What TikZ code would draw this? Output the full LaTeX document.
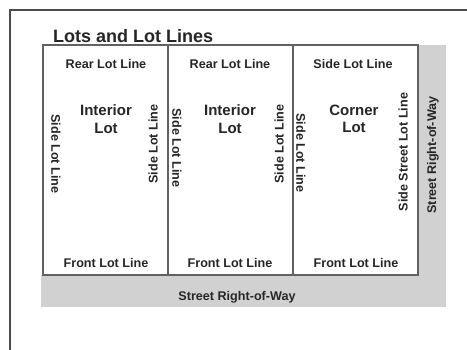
\documentclass[tikz,border=0pt]{standalone}
\usepackage{fontspec}
\setmainfont{Liberation Sans}
\begin{document}
\begin{tikzpicture}[x=1pt,y=-1pt,
  lotline/.style={draw=black!62,line width=1.4pt},
  strip/.style={fill=black!18,draw=none},
  lbl/.style={font=\bfseries\fontsize{12.6}{14}\selectfont,text=black!85,inner sep=0pt},
  big/.style={font=\bfseries\fontsize{15}{17.5}\selectfont,text=black!85,align=center,inner sep=0pt},
  down/.style={lbl,rotate=-90},
  up/.style={lbl,rotate=90}]
\useasboundingbox (0,0) rectangle (467,350);
\fill[white] (0,0) rectangle (467,350);
% frame
\draw[black!70,line width=2pt] (10,350) -- (10,10) -- (467,10);
% title
\node[anchor=base west,inner sep=0pt,font=\bfseries\fontsize{18}{20}\selectfont,text=black!85] (title) at (53,43) {Lots and Lot Lines};
% right-of-way strips
\fill[strip] (418,45) rectangle (446,307);
\fill[strip] (41,275) rectangle (446,307);
% lots
\draw[lotline] (43,45) rectangle (168,275);
\draw[lotline] (168,45) rectangle (293,275);
\draw[lotline] (293,45) rectangle (418,275);
% lot 1
\node[lbl] (r1) at (106,64) {Rear Lot Line};
\node[big] (c1) at (106,119) {Interior\\Lot};
\node[down] (l1) at (56,154) {Side Lot Line};
\node[up] (s1) at (153,144) {Side Lot Line};
\node[lbl] (f1) at (106,263) {Front Lot Line};
% lot 2
\node[lbl] (r2) at (230,64) {Rear Lot Line};
\node[big] (c2) at (230,119) {Interior\\Lot};
\node[down] (l2) at (177,148) {Side Lot Line};
\node[up] (s2) at (279,144) {Side Lot Line};
\node[lbl] (f2) at (230,263) {Front Lot Line};
% lot 3
\node[lbl] (r3) at (353,64) {Side Lot Line};
\node[big] (c3) at (354,119) {Corner\\Lot};
\node[down] (l3) at (301,153) {Side Lot Line};
\node[up] (s3) at (403,152) {Side Street Lot Line};
\node[lbl] (f3) at (356,263) {Front Lot Line};
% streets
\node[up] (sv) at (433,155) {Street Right-of-Way};
\node[lbl] (sh) at (237,297) {Street Right-of-Way};
\end{tikzpicture}
\end{document}
